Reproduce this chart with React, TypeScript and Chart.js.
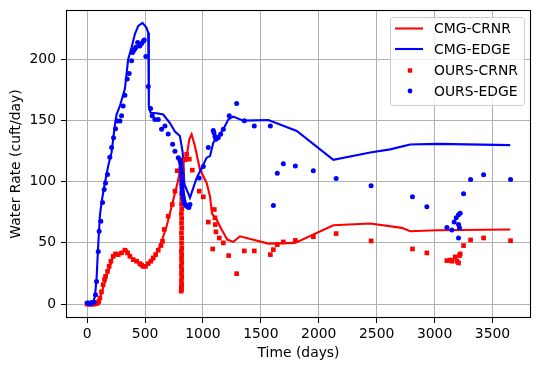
import React, { useEffect, useRef } from "react";
import { Chart, registerables } from "chart.js";

Chart.register(...registerables);

// ---- Data ----
const crnrLineDays = [0, 95, 124, 167, 225, 311, 340, 398, 499, 570, 628, 686, 730, 780, 820, 860, 882, 902, 931, 974, 1032, 1061, 1078, 1118, 1161, 1210, 1262, 1320, 1565, 1795, 2126, 2444, 2717, 2789, 3020, 3653];
const crnrLineVals = [0, 0, 9, 22.6, 39, 43, 44.5, 36, 31, 36, 47, 63.6, 80, 99, 117, 121, 134.7, 138.8, 129, 110, 99, 88, 74, 69, 61, 52.7, 50.8, 55.4, 49.4, 50, 64.4, 65.8, 62.3, 59.5, 60.3, 61];

const edgeLineDays = [0, 52, 67, 81, 95, 110, 124, 153, 182, 211, 239, 254, 283, 326, 354, 384, 412, 441, 478, 513, 527, 533, 548, 600, 657, 715, 758, 801, 825, 840, 888, 945, 1003, 1032, 1061, 1089, 1132, 1176, 1219, 1262, 1348, 1565, 1810, 2126, 2444, 2616, 2789, 3020, 3653];
const edgeLineVals = [0, 1.5, 6, 20, 47, 72, 83, 99, 113, 124, 146, 155, 162, 176, 200, 210, 220.7, 227.5, 230, 226, 222, 160.7, 156.5, 156, 155, 148, 141, 137.4, 124, 98, 87, 103, 114, 119.7, 121, 132, 137.4, 143, 151, 153.3, 150, 150.5, 141.5, 118, 124, 126.5, 130.5, 131, 130];

const crnrPtDays = [0, 10, 20, 30, 40, 50, 60, 70, 80, 90, 100, 110, 124, 138, 150, 159, 176, 190, 205, 225, 245, 268, 297, 326, 349, 369, 398, 427, 455, 470, 484, 504, 527, 550, 570, 591, 614, 637, 651, 666, 700, 735, 758, 778,
  812, 815, 813, 816, 814, 817, 815, 816, 814, 817, 815, 816, 814, 817, 815, 816, 814, 817, 815, 816, 814, 817, 815, 818, 816, 819, 817, 820, 818, 821, 819, 822,
  845, 859, 882, 908, 968, 1003, 1046, 1084, 1098, 1104, 1106, 1112, 1141, 1176, 1222, 1291, 1357, 1443, 1582, 1608, 1642, 1694, 1798, 1953, 2150, 2452, 2809, 2933, 3106, 3135, 3149, 3178, 3193, 3207, 3215, 3221, 3250, 3311, 3423, 3656];
const crnrPtVals = [0, 0, 0, 0, 0, 0, 0, 0.3, 0.5, 0.8, 2, 5, 10, 15.8, 20, 22.6, 26.7, 30.8, 35, 39, 41, 40.4, 41.8, 44, 41.8, 39, 36.3, 35, 33, 32, 30.8, 30.8, 33, 35, 37.7, 40.4, 44, 47.8, 51.3, 61, 71.8, 81.4, 92.3, 109,
  10.5, 12, 14, 16, 19, 22, 25, 28, 31, 34, 37, 40, 43, 46, 50, 54, 58, 62, 66, 70, 74, 78, 82, 86, 90, 94, 98, 102, 106, 110, 114, 117,
  118, 122.5, 118.5, 109.5, 92.3, 87.7, 67, 45, 77.3, 70.5, 65, 59, 54, 50, 39.6, 24.8, 43.4, 43.4, 40.4, 44.5, 48.6, 50.8, 52, 55, 57.6, 51.6, 45, 41.8, 35.5, 36, 35, 38.5, 35, 33.6, 39.5, 41, 47.8, 52.4, 54, 51.8];

const edgePtDays = [0, 10, 20, 30, 40, 50, 60, 72, 81, 96, 104, 118, 133, 147, 159, 176, 196, 211, 228, 245, 259, 283, 297, 311, 326, 346, 363, 384, 392, 404, 412, 421, 436, 455, 470, 484, 493, 507, 528, 548, 562, 585, 614, 643, 672, 700, 738, 758, 787,
  800, 805, 808, 810, 812, 814, 815, 817, 818, 820, 822, 824, 828, 832, 836, 842, 850, 860, 870, 878, 888,
  968, 1003, 1046, 1089, 1095, 1104, 1112, 1132, 1153, 1176, 1227, 1291, 1357, 1443, 1582, 1608, 1642, 1694, 1798, 1953, 2150, 2452, 2809, 2933, 3106, 3149, 3169, 3187, 3207, 3221, 3207, 3215, 3207, 3250, 3311, 3423, 3656];
const edgePtVals = [0.8, 0.8, 0.5, 0.8, 1, 1, 1.5, 7.6, 18.5, 43, 59.5, 67.7, 83, 93.7, 99, 106, 120, 128, 136, 143.4, 149.7, 149.7, 154, 162, 170.7, 184, 188.5, 199, 205.7, 207.6, 209, 210, 214, 211, 213, 215, 216, 202.5, 178, 160, 154, 151, 151, 143, 145.6, 139, 130.6, 125, 119.7,
  118, 117, 115, 112, 110, 107, 104, 101, 98, 95, 92, 90, 88, 86, 84, 82, 81, 80, 80, 79, 81.4,
  103, 112.5, 128, 142, 140, 137, 134.7, 136, 138.8, 143, 154, 164, 150, 145.6, 145.6, 80.6, 107, 114.7, 112.8, 109, 102.7, 96.7, 87.7, 79.5, 62.5, 60.5, 67, 70.5, 73, 74.3, 65, 62.3, 54, 90.2, 101.8, 105.7, 101.8];

const xTicks = [0, 500, 1000, 1500, 2000, 2500, 3000, 3500];
const yTicks = [0, 50, 100, 150, 200];
const seriesLabels = ["CMG-CRNR", "CMG-EDGE", "OURS-CRNR", "OURS-EDGE"];
const seriesColors = ["#ff0000", "#0000ff", "#ff0000", "#0000ff"];

const FONT = "'DejaVu Sans', sans-serif";
const FS = 13.9;

const toPts = (d: number[], v: number[]) => d.map((x, i) => ({ x, y: v[i] }));

const framePlugin = {
  id: "frameLegend",
  beforeDraw(chart: any) {
    const ctx = chart.ctx;
    ctx.save();
    ctx.fillStyle = "#ffffff";
    ctx.fillRect(0, 0, chart.width, chart.height);
    ctx.restore();
  },
  afterDraw(chart: any) {
    const ctx = chart.ctx;
    const a = chart.chartArea;
    ctx.save();
    ctx.strokeStyle = "#000";
    ctx.lineWidth = 1.1;
    ctx.strokeRect(Math.round(a.left) + 0.5, Math.round(a.top) + 0.5, Math.round(a.right - a.left) - 1, Math.round(a.bottom - a.top) - 1);

    // legend
    const bx = 390.5, by = 17.5, bw = 134, bh = 88, r = 3;
    ctx.globalAlpha = 0.8;
    ctx.fillStyle = "#ffffff";
    ctx.beginPath();
    ctx.moveTo(bx + r, by);
    ctx.lineTo(bx + bw - r, by);
    ctx.arcTo(bx + bw, by, bx + bw, by + r, r);
    ctx.lineTo(bx + bw, by + bh - r);
    ctx.arcTo(bx + bw, by + bh, bx + bw - r, by + bh, r);
    ctx.lineTo(bx + r, by + bh);
    ctx.arcTo(bx, by + bh, bx, by + bh - r, r);
    ctx.lineTo(bx, by + r);
    ctx.arcTo(bx, by, bx + r, by, r);
    ctx.closePath();
    ctx.fill();
    ctx.globalAlpha = 1;
    ctx.strokeStyle = "#cccccc";
    ctx.lineWidth = 1;
    ctx.stroke();

    const rowsY = [28.5, 49, 70.5, 91];
    ctx.font = `${FS}px ${FONT}`;
    ctx.textBaseline = "middle";
    ctx.textAlign = "left";
    seriesLabels.forEach((lab, i) => {
      const y = rowsY[i];
      ctx.fillStyle = seriesColors[i];
      ctx.strokeStyle = seriesColors[i];
      if (i < 2) {
        ctx.lineWidth = 2.1;
        ctx.beginPath();
        ctx.moveTo(395, y);
        ctx.lineTo(423, y);
        ctx.stroke();
      } else if (i === 2) {
        ctx.fillRect(410 - 2.2, y - 2.2, 4.4, 4.4);
      } else {
        ctx.beginPath();
        ctx.arc(410, y, 2.4, 0, Math.PI * 2);
        ctx.fill();
      }
      ctx.fillStyle = "#000";
      ctx.fillText(lab, 434, y + 1);
    });
    ctx.restore();
  },
};

export default function App() {
  const ref = useRef<HTMLCanvasElement | null>(null);
  useEffect(() => {
    document.body.style.margin = "0";
    const canvas = ref.current!;
    const chart = new Chart(canvas, {
      type: "scatter",
      data: {
        datasets: [
          {
            label: seriesLabels[0],
            data: toPts(crnrLineDays, crnrLineVals),
            showLine: true,
            borderColor: seriesColors[0],
            backgroundColor: seriesColors[0],
            borderWidth: 2.1,
            pointRadius: 0,
            order: 4,
          },
          {
            label: seriesLabels[1],
            data: toPts(edgeLineDays, edgeLineVals),
            showLine: true,
            borderColor: seriesColors[1],
            backgroundColor: seriesColors[1],
            borderWidth: 2.1,
            pointRadius: 0,
            order: 3,
          },
          {
            label: seriesLabels[2],
            data: toPts(crnrPtDays, crnrPtVals),
            showLine: false,
            pointStyle: "rect",
            pointRadius: 3.3,
            borderWidth: 0,
            backgroundColor: seriesColors[2],
            borderColor: seriesColors[2],
            order: 2,
          },
          {
            label: seriesLabels[3],
            data: toPts(edgePtDays, edgePtVals),
            showLine: false,
            pointStyle: "circle",
            pointRadius: 2.5,
            borderWidth: 0,
            backgroundColor: seriesColors[3],
            borderColor: seriesColors[3],
            order: 1,
          },
        ],
      },
      options: {
        responsive: false,
        animation: false,
        devicePixelRatio: 1,
        layout: { padding: { top: 10, right: 9, left: 0, bottom: 0 } },
        plugins: { legend: { display: false }, tooltip: { enabled: false } },
        scales: {
          x: {
            type: "linear",
            min: -182.5,
            max: 3832.5,
            afterBuildTicks: (s: any) => {
              s.ticks = xTicks.map((value) => ({ value }));
            },
            afterFit: (s: any) => {
              s.height = 53;
              s.paddingLeft = 0;
              s.paddingRight = 0;
            },
            border: { display: false },
            grid: { color: "#b0b0b0", lineWidth: 1, tickColor: "#000", tickLength: 5, drawTicks: true },
            ticks: {
              color: "#000",
              font: { family: FONT, size: FS },
              padding: 3,
              maxRotation: 0,
              autoSkip: false,
              callback: (v: any) => String(v),
            },
            title: { display: true, text: "Time (days)", color: "#000", font: { family: FONT, size: FS }, padding: { top: 0, bottom: 9.7 } },
          },
          y: {
            type: "linear",
            min: -11.45,
            max: 240.5,
            afterBuildTicks: (s: any) => {
              s.ticks = yTicks.map((value) => ({ value }));
            },
            afterFit: (s: any) => {
              s.width = 66;
              s.paddingTop = 0;
              s.paddingBottom = 0;
            },
            border: { display: false },
            grid: { color: "#b0b0b0", lineWidth: 1, tickColor: "#000", tickLength: 5, drawTicks: true },
            ticks: {
              color: "#000",
              font: { family: FONT, size: FS },
              padding: 5,
              autoSkip: false,
              callback: (v: any) => String(v),
            },
            title: { display: true, text: "Water Rate (cuft/day)", color: "#000", font: { family: FONT, size: FS }, padding: { top: 8.3, bottom: 0 } },
          },
        },
      },
      plugins: [framePlugin],
    });
    return () => chart.destroy();
  }, []);
  return (
    <div style={{ width: 540, height: 371 }}>
      <canvas ref={ref} width={540} height={371} style={{ display: "block", width: 540, height: 371 }} />
    </div>
  );
}
